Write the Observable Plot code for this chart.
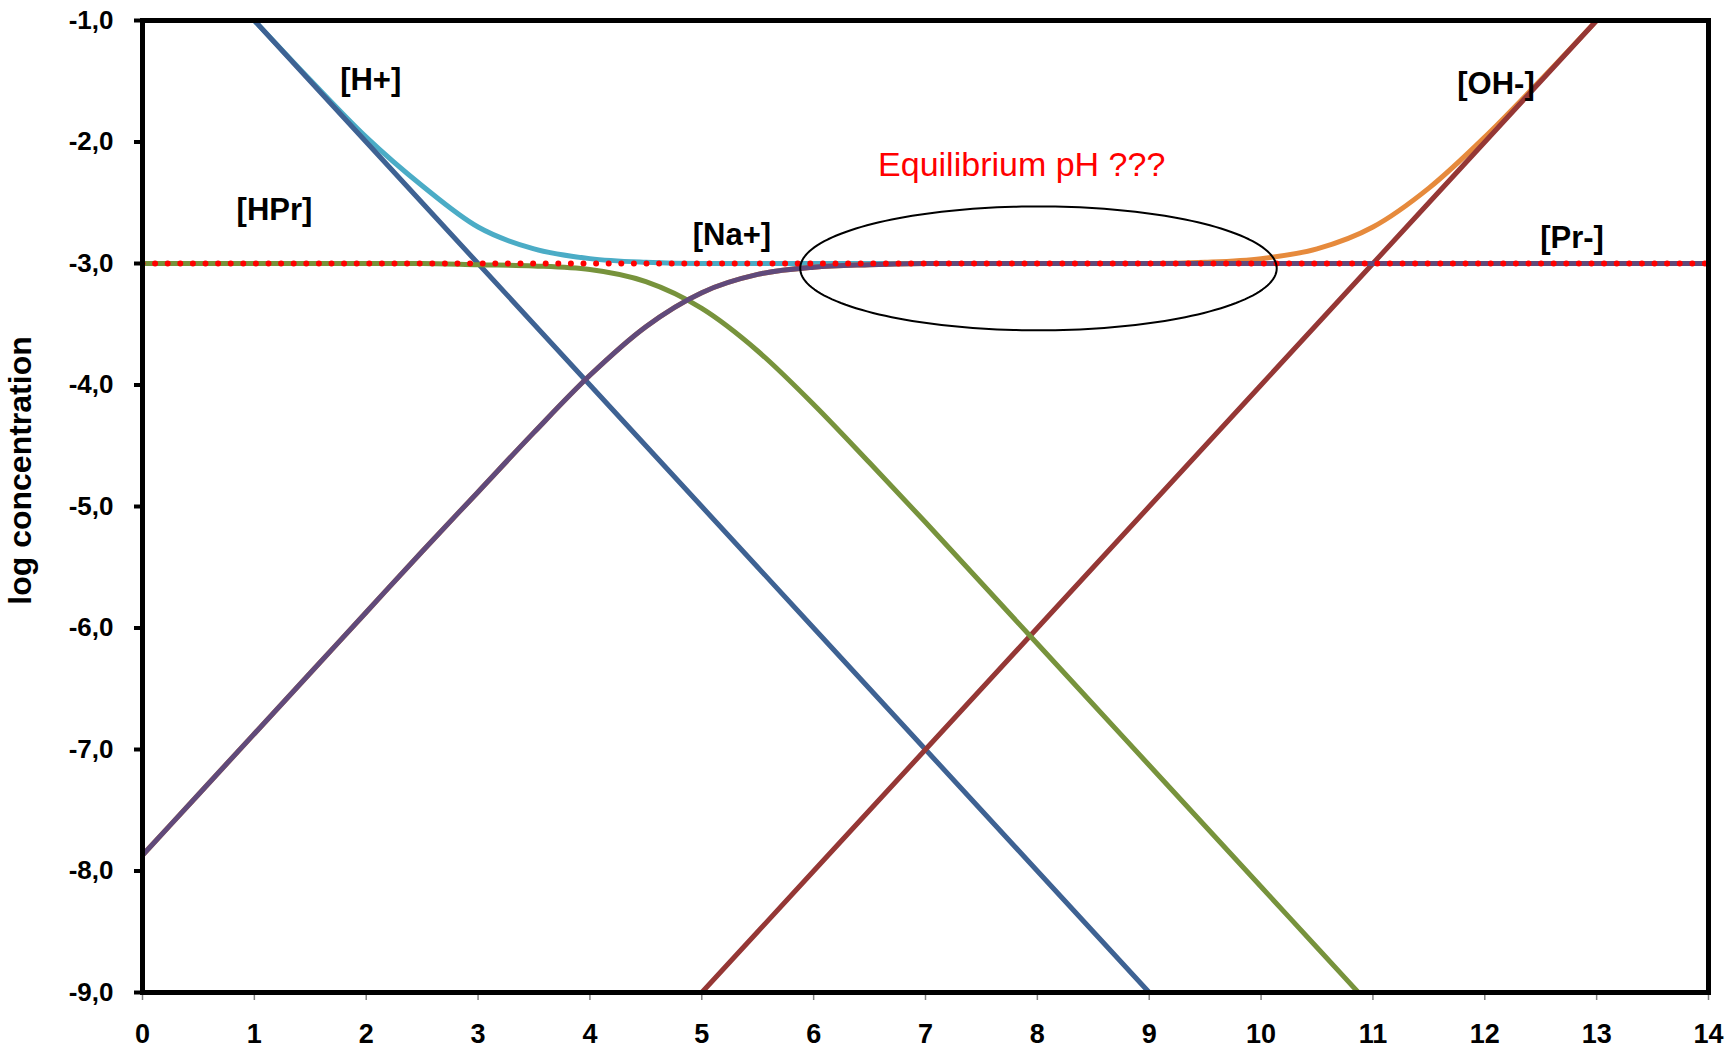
<!DOCTYPE html>
<html>
<head>
<meta charset="utf-8">
<script src="https://cdn.jsdelivr.net/npm/d3@7"></script>
<script src="https://cdn.jsdelivr.net/npm/@observablehq/plot@0.6"></script>
<style>
  html, body { margin: 0; padding: 0; background: #ffffff; }
  #chart { width: 1730px; height: 1048px; }
</style>
</head>
<body>
<div id="chart"></div>
<script>
// ---- data ----
const pH = [0, 0.5, 1, 1.5, 2, 2.5, 3, 3.5, 4, 4.5, 5, 5.5, 6, 6.5, 7, 7.5, 8, 8.5, 9, 9.5, 10, 10.5, 11, 11.5, 12, 12.5, 13, 13.5, 14];
const logH = [0, -0.5, -1, -1.5, -2, -2.5, -3, -3.5, -4, -4.5, -5, -5.5, -6, -6.5, -7, -7.5, -8, -8.5, -9, -9.5, -10, -10.5, -11, -11.5, -12, -12.5, -13, -13.5, -14];
const logOH = [-14, -13.5, -13, -12.5, -12, -11.5, -11, -10.5, -10, -9.5, -9, -8.5, -8, -7.5, -7, -6.5, -6, -5.5, -5, -4.5, -4, -3.5, -3, -2.5, -2, -1.5, -1, -0.5, 0];
const logHPr = [-3.00, -3.00, -3.00, -3.00, -3.00, -3.00, -3.01, -3.02, -3.05, -3.15, -3.37, -3.72, -4.16, -4.64, -5.13, -5.63, -6.13, -6.63, -7.13, -7.63, -8.13, -8.63, -9.13, -9.63, -10.13, -10.63, -11.13, -11.63, -12.13];
const logPr = [-7.87, -7.37, -6.87, -6.37, -5.87, -5.37, -4.88, -4.39, -3.92, -3.52, -3.24, -3.09, -3.03, -3.01, -3.00, -3.00, -3.00, -3.00, -3.00, -3.00, -3.00, -3.00, -3.00, -3.00, -3.00, -3.00, -3.00, -3.00, -3.00];
const logNa = [-3, -3, -3, -3, -3, -3, -3, -3, -3, -3, -3, -3, -3, -3, -3, -3, -3, -3, -3, -3, -3, -3, -3, -3, -3, -3, -3, -3, -3];
const logPos = [0.00, -0.50, -1.00, -1.49, -1.96, -2.36, -2.70, -2.88, -2.96, -2.99, -3.00, -3.00, -3.00, -3.00, -3.00, -3.00, -3.00, -3.00, -3.00, -3.00, -3.00, -3.00, -3.00, -3.00, -3.00, -3.00, -3.00, -3.00, -3.00];
const logNeg = [-7.87, -7.37, -6.87, -6.37, -5.87, -5.37, -4.88, -4.39, -3.92, -3.52, -3.24, -3.09, -3.03, -3.01, -3.00, -3.00, -3.00, -3.00, -3.00, -2.99, -2.96, -2.88, -2.70, -2.38, -1.96, -1.49, -1.00, -0.50, 0.00];

const xTicks = [0, 1, 2, 3, 4, 5, 6, 7, 8, 9, 10, 11, 12, 13, 14];
const yTicks = [-9, -8, -7, -6, -5, -4, -3, -2, -1];

const labelText = ["[H+]", "[HPr]", "[Na+]", "[OH-]", "[Pr-]"];
const labelPH = [2.04, 1.18, 5.27, 12.10, 12.78];
const labelLog = [-1.49, -2.56, -2.77, -1.52, -2.79];

const noteText = ["Equilibrium pH ???"];
const notePH = [7.86];
const noteLog = [-2.19];

// ellipse annotation (centre and radii in data units)
const ellipseCenter = [8.01, -3.04];
const ellipseRadii = [2.13, 0.51];

const yTitle = ["log concentration"];

// ---- build tables ----
const rows = pH.map((p, i) => ({
  pH: p, H: logH[i], OH: logOH[i], HPr: logHPr[i], Pr: logPr[i],
  Na: logNa[i], Pos: logPos[i], Neg: logNeg[i]
}));
const labels = labelText.map((t, i) => ({t, x: labelPH[i], y: labelLog[i]}));
const notes = noteText.map((t, i) => ({t, x: notePH[i], y: noteLog[i]}));
const ellipse = d3.range(0, 360, 2).map(a => {
  const r = a * Math.PI / 180;
  return {x: ellipseCenter[0] + ellipseRadii[0] * Math.cos(r), y: ellipseCenter[1] + ellipseRadii[1] * Math.sin(r)};
});

const fmt = d => d.toFixed(1).replace(".", ",");
const font = "'Liberation Sans', Arial, Helvetica, sans-serif";
const lw = 5;

const chart = Plot.plot({
  width: 1730,
  height: 1048,
  marginLeft: 142,
  marginRight: 22,
  marginTop: 20,
  marginBottom: 56,
  style: {fontFamily: font, fontSize: "26px", fontWeight: "bold", color: "black", background: "white"},
  x: {domain: [0, 14]},
  y: {domain: [-9, -1]},
  marks: [
    Plot.line(rows, {x: "pH", y: "Pos", stroke: "#4BACC6", strokeWidth: lw, curve: "monotone-x", clip: true}),
    Plot.line(rows, {x: "pH", y: "Neg", stroke: "#E68A3C", strokeWidth: lw, curve: "monotone-x", clip: true}),
    Plot.line(rows, {x: "pH", y: "H", stroke: "#3E6293", strokeWidth: lw, clip: true}),
    Plot.line(rows, {x: "pH", y: "OH", stroke: "#953735", strokeWidth: lw, clip: true}),
    Plot.line(rows, {x: "pH", y: "HPr", stroke: "#77933C", strokeWidth: lw, curve: "monotone-x", clip: true}),
    Plot.line(rows, {x: "pH", y: "Pr", stroke: "#604A7B", strokeWidth: lw, curve: "monotone-x", clip: true}),
    Plot.line(rows, {x: "pH", y: "Na", stroke: "#FF0000", strokeWidth: 6, strokeDasharray: "0 12.6", strokeLinecap: "round", clip: true}),
    Plot.line(ellipse, {x: "x", y: "y", stroke: "black", strokeWidth: 2, curve: "linear-closed"}),
    Plot.text(labels, {x: "x", y: "y", text: "t", fontSize: 31, fontWeight: "bold", fill: "black"}),
    Plot.text(notes, {x: "x", y: "y", text: "t", fontSize: 34, fontWeight: "normal", fill: "#FF0000"}),
    Plot.text(yTitle, {text: d => d, frameAnchor: "left", textAnchor: "middle", dx: -122, dy: -36, rotate: -90, fontSize: 32, fontWeight: "bold", fill: "black"}),
    Plot.axisX({ticks: xTicks, tickFormat: d => String(d), tickSize: 8, tickPadding: 23, stroke: "#808080", strokeWidth: 1.5, label: null, fontSize: 27, fontWeight: "bold", fill: "black"}),
    Plot.axisY({ticks: yTicks, tickFormat: fmt, tickSize: 8, tickPadding: 21, stroke: "black", strokeWidth: 4, label: null, fontSize: 26, fontWeight: "bold", fill: "black"}),
    Plot.frame({stroke: "black", strokeWidth: lw})
  ]
});
document.getElementById("chart").appendChild(chart);
</script>
</body>
</html>
